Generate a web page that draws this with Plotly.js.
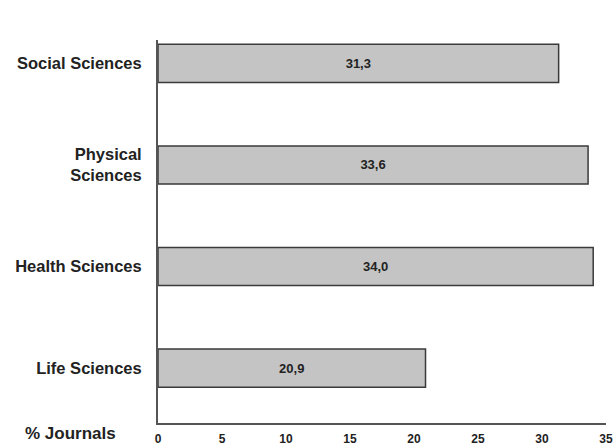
<!DOCTYPE html>
<html>
<head>
<meta charset="utf-8">
<script src="https://cdn.plot.ly/plotly-3.0.1.min.js"></script>
<style>html,body{margin:0;padding:0;background:#fff;}#chart{width:614px;height:448px;}</style>
</head>
<body>
<div id="chart"></div>
<script>
var categories = ["Life Sciences", "Health Sciences", "Physical<br>Sciences", "Social Sciences"];
var values = [20.9, 34.0, 33.6, 31.3];
var xTicks = [0, 5, 10, 15, 20, 25, 30, 35];
var axisLabel = "% Journals";

var labels = values.map(function(v){ return v.toFixed(1).replace('.', ','); });
var fontFam = "Liberation Sans, Arial, sans-serif";

var trace = {
  type: 'bar',
  orientation: 'h',
  y: categories,
  x: values,
  text: labels,
  textposition: 'inside',
  insidetextanchor: 'middle',
  textangle: 0,
  textfont: {family: fontFam, size: 13, color: '#222', weight: 'bold'},
  marker: {color: '#c4c4c4', line: {color: '#3a3a3a', width: 1.5}},
  hoverinfo: 'none'
};

var layout = {
  width: 614, height: 448,
  margin: {l: 158, r: 8, t: 40, b: 25},
  paper_bgcolor: '#fff', plot_bgcolor: '#fff',
  showlegend: false,
  bargap: 0.625,
  font: {family: fontFam, color: '#222'},
  xaxis: {
    range: [0, 35],
    tickvals: xTicks,
    ticktext: xTicks.map(String),
    showgrid: false, zeroline: false,
    showline: true, linecolor: '#555', linewidth: 2,
    ticks: '',
    ticklabelstandoff: 4,
    tickfont: {family: fontFam, size: 12, color: '#222', weight: 'bold'}
  },
  yaxis: {
    range: [-0.54, 3.23],
    showgrid: false, zeroline: false,
    showline: true, linecolor: '#555', linewidth: 2,
    ticks: '',
    ticklabelstandoff: 11,
    tickfont: {family: fontFam, size: 16.5, color: '#222', weight: 'bold'}
  },
  annotations: [{
    text: axisLabel,
    xref: 'paper', yref: 'paper',
    x: -0.09, y: 0, xanchor: 'right', yanchor: 'middle', yshift: -10,
    showarrow: false,
    font: {family: fontFam, size: 17, color: '#222', weight: 'bold'}
  }]
};

Plotly.newPlot('chart', [trace], layout, {staticPlot: true, displayModeBar: false});
</script>
</body>
</html>
